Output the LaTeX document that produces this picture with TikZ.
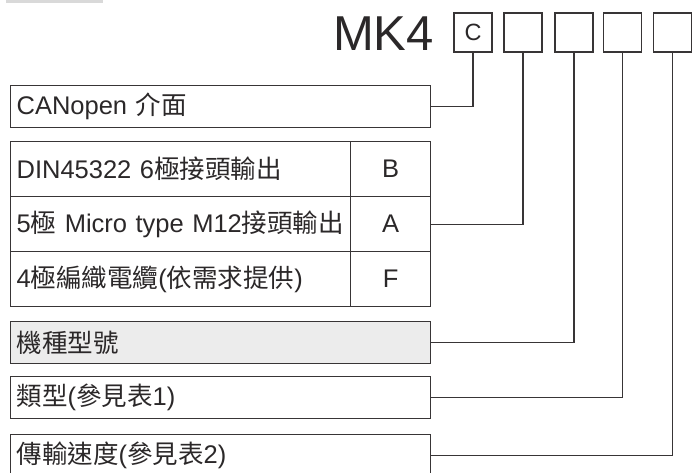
\documentclass[tikz,border=0pt]{standalone}
\usepackage{fontspec}
\setmainfont{Liberation Sans}
\newfontfamily\cjk{Noto Sans CJK TC}
\definecolor{ln}{HTML}{383536}
\definecolor{tx}{HTML}{2B2829}
\definecolor{shade}{HTML}{ECECEC}
\definecolor{topbar}{HTML}{D9D9D9}
\begin{document}
\begin{tikzpicture}[x=1pt,y=-1pt,
  lbl/.style={draw=ln, line width=1.2pt, text=tx, anchor=north west,
    inner xsep=6pt, inner ysep=0pt, text width=408pt, align=left,
    minimum height=42pt, font=\fontsize{25.5}{30}\selectfont},
  cellL/.style={draw=ln, line width=1.2pt, text=tx, anchor=north west,
    inner xsep=6pt, inner ysep=0pt, text width=328pt, align=left,
    minimum height=55pt, font=\fontsize{25.5}{30}\selectfont},
  cellR/.style={draw=ln, line width=1.2pt, text=tx, anchor=north west,
    inner sep=0pt, minimum width=80pt, minimum height=55pt,
    font=\fontsize{25.5}{30}\selectfont},
  sq/.style={draw=ln, line width=1.2pt, text=tx, inner sep=0pt,
    minimum width=38pt, minimum height=39pt, font=\fontsize{23.5}{26}\selectfont},
  conn/.style={draw=ln, line width=1.2pt}
]
\useasboundingbox (0,0) rectangle (692,472);
\clip (0,0) rectangle (692,472);
\fill[topbar] (6,0) rectangle (103,2.5);

% code header
\node[anchor=base east, inner sep=0pt, text=tx, font=\fontsize{49}{55}\selectfont] (mk) at (434,50) {MK4};
\node[sq] (b1) at (473,32.5) {C};
\node[sq] (b2) at (523,32.5) {};
\node[sq] (b3) at (574,32.5) {};
\node[sq] (b4) at (622.5,32.5) {};
\node[sq] (b5) at (672.5,32.5) {};

% left boxes
\node[lbl] (can) at (10,84.5) {CANopen {\cjk 介面}};

\node[cellL] (la) at (10,141) {DIN45322 6{\cjk 極接頭輸出}};
\node[cellR] (ra) at (350,141) {B};
\node[cellL] (lb) at (10,196) {5{\cjk 極} Micro type M12{\cjk 接頭輸出}};
\node[cellR] (rb) at (350,196) {A};
\node[cellL] (lc) at (10,251) {4{\cjk 極編織電纜}({\cjk 依需求提供})};
\node[cellR] (rc) at (350,251) {F};

\node[lbl, fill=shade] (model) at (10,321) {{\cjk 機種型號}};
\node[lbl] (type) at (10,376) {{\cjk 類型}({\cjk 參見表}1)};
\node[lbl] (speed) at (10,434) {{\cjk 傳輸速度}({\cjk 參見表}2)};

% connectors
\draw[conn] (b1.south) |- (can.east);
\draw[conn] (b2.south) |- (rb.east);
\draw[conn] (b3.south) |- (model.east);
\draw[conn] (b4.south) |- (type.east);
\draw[conn] (b5.south) |- (speed.east);
\end{tikzpicture}
\end{document}
